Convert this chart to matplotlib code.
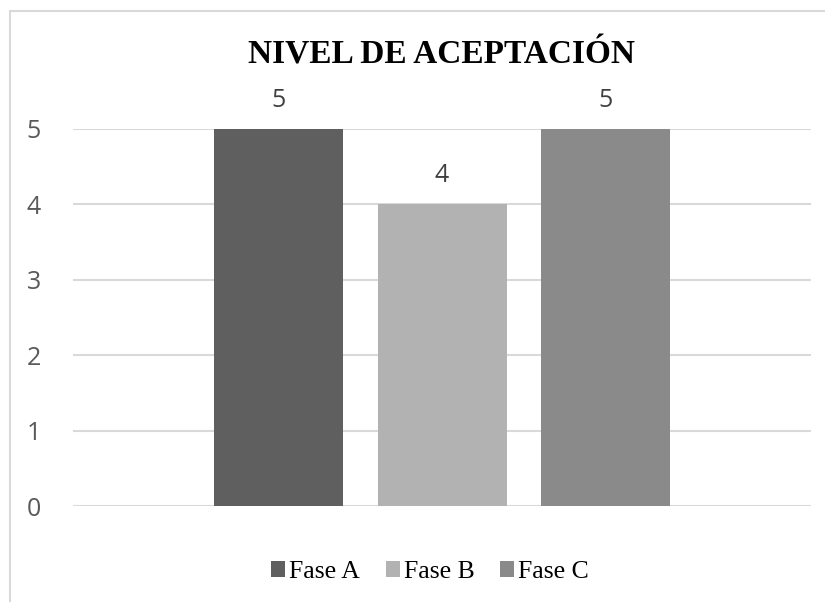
import matplotlib
matplotlib.use("Agg")
import matplotlib.pyplot as plt
from matplotlib.patches import Rectangle

series = ["Fase A", "Fase B", "Fase C"]
values = [5, 4, 5]
colors = ["#5f5f5f", "#b2b2b2", "#8a8a8a"]
yticks = [0, 1, 2, 3, 4, 5]
title = "NIVEL DE ACEPTACIÓN"

W, H = 825, 602
fig = plt.figure(figsize=(W / 100, H / 100), dpi=100)
fig.patch.set_facecolor("white")

# chart border (cropped at right/bottom)
fig.patches.append(Rectangle((10 / W, -0.1), 1.2, (H - 11) / H + 0.1,
                             transform=fig.transFigure, fill=False,
                             edgecolor="#d9d9d9", linewidth=1.5))

x0, x1 = 73, 811
y0, y1 = 506, 129
ax = fig.add_axes([x0 / W, (H - y0) / H, (x1 - x0) / W, (y0 - y1) / H])

spacing = 163.5
width = 129 / spacing
half = (x1 - x0) / 2 / spacing
offsets = [-1, 0, 1]
handles = []
for off, v, c, s in zip(offsets, values, colors, series):
    b = ax.bar(off, v, width=width, color=c, label=s, zorder=3)
    handles.append(b)
    ax.text(off, v + 0.38, str(v), ha="center", va="center",
            fontsize=18, color="#404040", family="Open Sans")

ax.set_xlim(-half, half)
ax.set_ylim(0, 5)
ax.set_yticks(yticks)
ax.set_yticklabels([str(t) for t in yticks], family="Open Sans",
                   fontsize=18, color="#595959")
ax.tick_params(axis="y", length=0, pad=23)
ax.set_xticks([])
for sp in ax.spines.values():
    sp.set_visible(False)
ax.grid(axis="y", color="#d9d9d9", linewidth=1.5, zorder=0)
ax.set_axisbelow(True)

fig.text(442 / W, 1 - 55 / H, title, ha="center", va="center",
         fontsize=24, fontweight="bold", family="Liberation Serif",
         color="black")

leg = fig.legend(handles=handles, labels=series, loc="center",
                 bbox_to_anchor=(430 / W, 1 - 572 / H), ncol=3,
                 frameon=False, prop={"family": "Liberation Serif", "size": 18.5},
                 handlelength=0.55, handleheight=0.55, handletextpad=0.15,
                 columnspacing=1.0)

fig.savefig("out.png", dpi=100, facecolor="white")
